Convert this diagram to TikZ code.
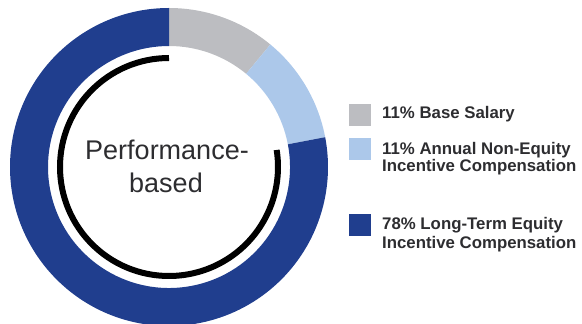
\documentclass[tikz,border=0pt]{standalone}
\usepackage{fontspec}
\setmainfont{Liberation Sans}
\definecolor{dkblue}{RGB}{32,62,142}
\definecolor{ltblue}{RGB}{172,200,234}
\definecolor{segrey}{RGB}{188,189,193}
\definecolor{txtgrey}{RGB}{45,45,48}
\tikzset{
  legbox/.style={minimum size=22pt, inner sep=0pt, draw=none, anchor=south west},
  legtext/.style={anchor=base west, inner sep=0pt, font=\fontsize{16.8}{18}\selectfont\bfseries, text=txtgrey},
  centertext/.style={anchor=base, inner sep=0pt, font=\fontsize{27}{30}\selectfont, text=txtgrey},
}
\begin{document}
\begin{tikzpicture}[x=1pt,y=1pt]
\useasboundingbox (0,0) rectangle (582,324);
\clip (0,0) rectangle (582,324);
\coordinate (c) at (169,157);
\begin{scope}[shift={(169,157)}]
  % grey: base salary
  \fill[segrey] (90:159) arc[start angle=90, end angle=50.4, radius=159] -- (50.4:121) arc[start angle=50.4, end angle=90, radius=121] -- cycle;
  % light blue: annual non-equity
  \fill[ltblue] (50.4:159) arc[start angle=50.4, end angle=10.8, radius=159] -- (10.8:121) arc[start angle=10.8, end angle=50.4, radius=121] -- cycle;
  % dark blue: long-term equity
  \fill[dkblue] (90:159) arc[start angle=90, end angle=370.8, radius=159] -- (370.8:121) arc[start angle=370.8, end angle=90, radius=121] -- cycle;
  % black arc
  \draw[black, line width=6pt] (90:109) arc[start angle=90, end angle=369, radius=109];
\end{scope}
\node[centertext] (perf) at (167,164) {Performance-};
\node[centertext] (based) at (166,131) {based};
% legend
\node[legbox, fill=segrey] (k1) at (349,198) {};
\node[legbox, fill=ltblue] (k2) at (349,164) {};
\node[legbox, fill=dkblue] (k3) at (349,88) {};
\node[legtext] (t1) at (382,205) {11\% Base Salary};
\node[legtext] (t2a) at (382,169) {11\% Annual Non-Equity};
\node[legtext] (t2b) at (382,152) {Incentive Compensation};
\node[legtext] (t3a) at (382,94) {78\% Long-Term Equity};
\node[legtext] (t3b) at (382,75) {Incentive Compensation};
\end{tikzpicture}
\end{document}
